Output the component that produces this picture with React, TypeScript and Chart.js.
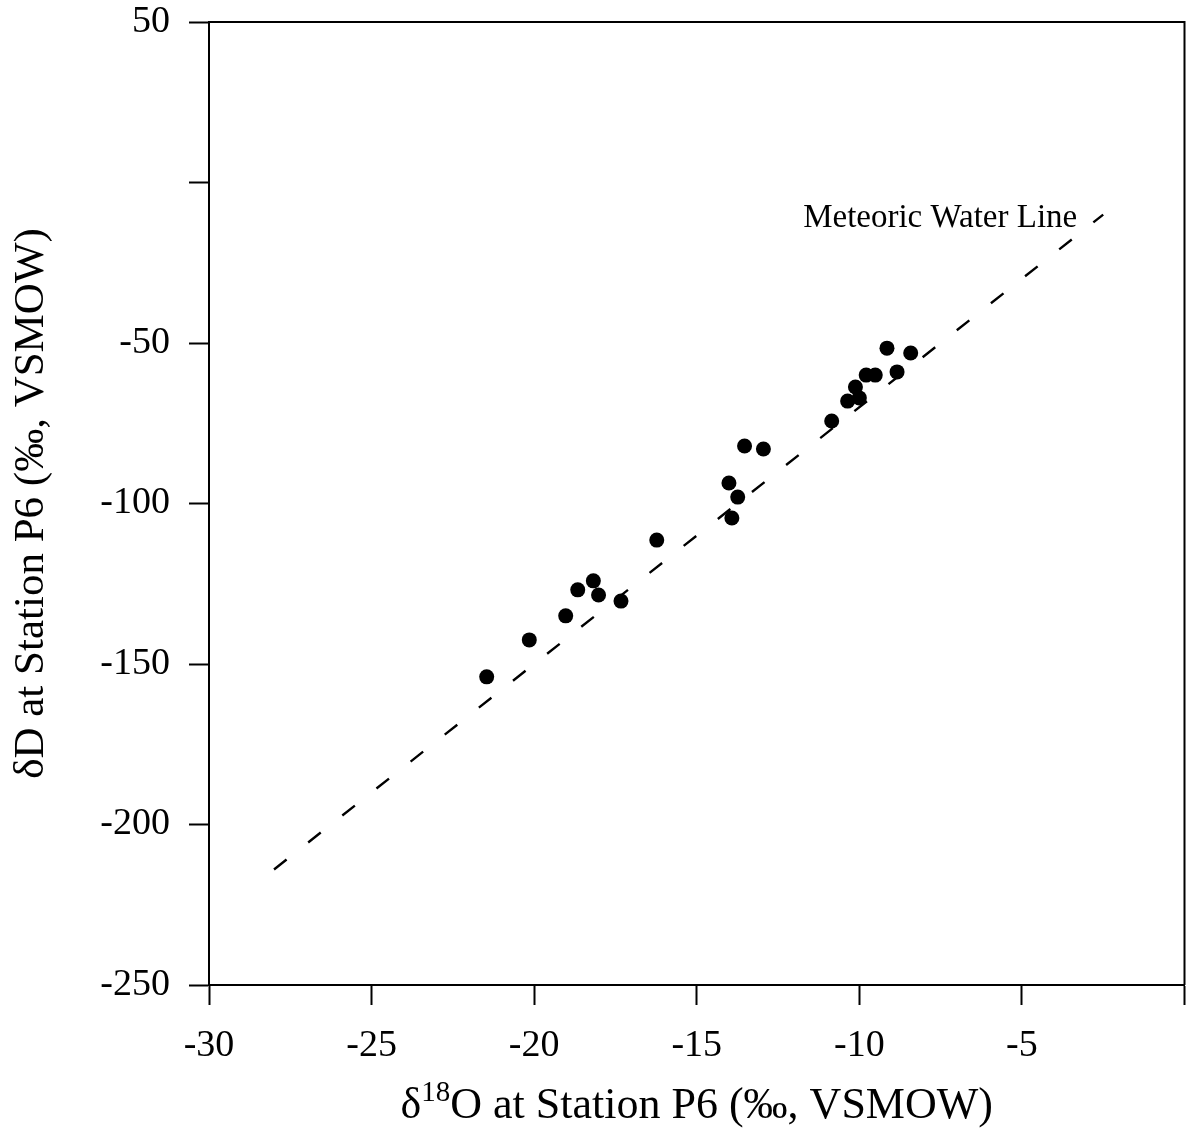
import React, { useEffect, useRef } from "react";
import { Chart, registerables } from "chart.js";

Chart.register(...registerables);

// δ18O values (‰ VSMOW) of samples at Station P6
const d18O = [-21.46, -20.15, -19.03, -18.66, -18.18, -18.02, -17.33, -16.23, -14.01, -13.92, -13.74, -13.53, -12.95, -10.85, -10.36, -10.0, -10.12, -9.79, -9.51, -8.84, -9.15, -8.42];
// δD values (‰ VSMOW) of samples at Station P6
const dD = [-154.0, -142.5, -135.0, -126.9, -124.1, -128.5, -130.4, -111.4, -93.6, -104.5, -98.0, -82.1, -83.0, -74.3, -68.1, -67.1, -63.7, -60.0, -60.0, -59.0, -51.6, -53.1];
// Meteoric water line end points
const mwlX = [-28, -2.5];
const mwlY = [-214, -10];

const xMin = -30, xMax = 0, xStep = 5;
const yMin = -250, yMax = 50, yStep = 50;
const hiddenTickLabels = [0];

const xTitleParts = ["δ", "18", "O at Station P6 (‰, VSMOW)"];
const yTitle = "δD at Station P6 (‰, VSMOW)";
const lineLabel = "Meteoric Water Line";
const lineLabelAnchor = { x: -3.3, y: -14 };

const FONT = "'Liberation Serif', 'Times New Roman', serif";

const zeroPad = (s: any) => {
  s.paddingTop = 0;
  s.paddingBottom = 0;
  s.paddingLeft = 0;
  s.paddingRight = 0;
};

export default function App() {
  const ref = useRef<HTMLCanvasElement | null>(null);

  useEffect(() => {
    if (!ref.current) return;
    const overlay = {
      id: "overlay",
      afterDraw(chart: any) {
        const ctx = chart.ctx;
        const a = chart.chartArea;
        ctx.save();
        // frame (top and right)
        ctx.strokeStyle = "#000";
        ctx.lineWidth = 2;
        ctx.beginPath();
        ctx.moveTo(a.left, a.top);
        ctx.lineTo(a.right, a.top);
        ctx.lineTo(a.right, a.bottom);
        ctx.stroke();
        // x title with superscript
        ctx.fillStyle = "#000";
        ctx.textBaseline = "alphabetic";
        const big = `44px ${FONT}`;
        const small = `29px ${FONT}`;
        ctx.font = big;
        const w0 = ctx.measureText(xTitleParts[0]).width;
        const w2 = ctx.measureText(xTitleParts[2]).width;
        ctx.font = small;
        const w1 = ctx.measureText(xTitleParts[1]).width;
        const total = w0 + w1 + w2;
        const cx = (a.left + a.right) / 2;
        let x = cx - total / 2;
        const base = 1118;
        ctx.font = big;
        ctx.textAlign = "left";
        ctx.fillText(xTitleParts[0], x, base);
        x += w0;
        ctx.font = small;
        ctx.fillText(xTitleParts[1], x, base - 17);
        x += w1;
        ctx.font = big;
        ctx.fillText(xTitleParts[2], x, base);
        // line label
        const sx = chart.scales.x, sy = chart.scales.y;
        ctx.font = `33px ${FONT}`;
        ctx.textAlign = "right";
        ctx.fillText(lineLabel, sx.getPixelForValue(lineLabelAnchor.x), sy.getPixelForValue(lineLabelAnchor.y));
        ctx.restore();
      },
    };

    const chart = new Chart(ref.current, {
      type: "scatter",
      data: {
        datasets: [
          {
            label: "Samples",
            data: d18O.map((v, i) => ({ x: v, y: dD[i] })),
            pointRadius: 7.5,
            pointBackgroundColor: "#000",
            pointBorderColor: "#000",
            pointBorderWidth: 0,
          },
          {
            label: lineLabel,
            data: mwlX.map((v, i) => ({ x: v, y: mwlY[i] })),
            showLine: true,
            pointRadius: 0,
            borderColor: "#000",
            borderWidth: 2.4,
            borderDash: [16, 27.5],
          } as any,
        ],
      },
      options: {
        responsive: false,
        animation: false,
        layout: { padding: { top: 22, right: 3, left: 0, bottom: 0 } },
        plugins: { legend: { display: false }, tooltip: { enabled: false } },
        scales: {
          x: {
            type: "linear",
            position: "bottom",
            min: xMin,
            max: xMax,
            afterFit: (s: any) => { s.height = 161; zeroPad(s); },
            ticks: {
              stepSize: xStep,
              autoSkip: false,
              maxRotation: 0,
              color: "#000",
              padding: 18,
              font: { family: FONT, size: 38 },
              callback: (v: any) => (hiddenTickLabels.includes(v) ? "" : String(v)),
            },
            grid: { drawOnChartArea: false, drawTicks: true, tickLength: 20, tickColor: "#000", tickWidth: 2 },
            border: { display: true, color: "#000", width: 2 },
          },
          y: {
            type: "linear",
            min: yMin,
            max: yMax,
            afterFit: (s: any) => { s.width = 209; zeroPad(s); },
            ticks: {
              stepSize: yStep,
              autoSkip: false,
              color: "#000",
              padding: 19,
              font: { family: FONT, size: 38 },
              callback: (v: any) => (hiddenTickLabels.includes(v) ? "" : String(v)),
            },
            grid: { drawOnChartArea: false, drawTicks: true, tickLength: 20, tickColor: "#000", tickWidth: 2 },
            border: { display: true, color: "#000", width: 2 },
            title: {
              display: true,
              text: yTitle,
              color: "#000",
              font: { family: FONT, size: 43 },
              padding: { top: 6, bottom: 0 },
            },
          },
        },
      },
      plugins: [overlay],
    });
    return () => chart.destroy();
  }, []);

  return (
    <div style={{ position: "absolute", left: 0, top: 0, width: 1192, height: 1146, background: "#fff" }}>
      <canvas ref={ref} width={1192} height={1146} style={{ width: 1192, height: 1146 }} />
    </div>
  );
}
